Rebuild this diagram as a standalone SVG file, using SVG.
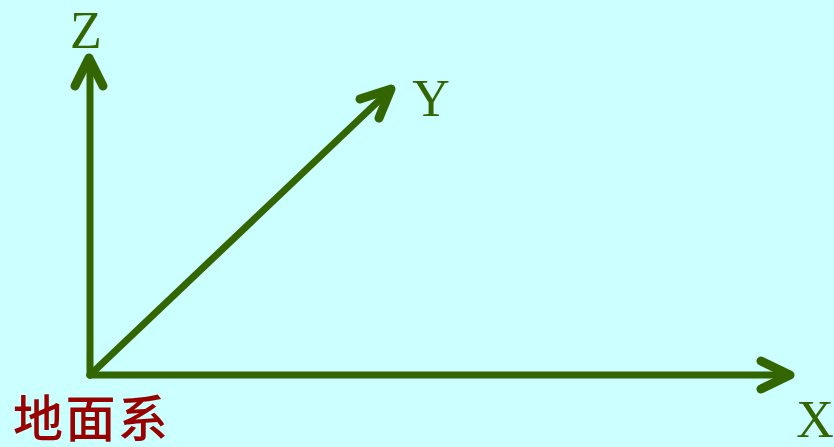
<svg xmlns="http://www.w3.org/2000/svg" width="834" height="447" viewBox="0 0 834 447">
<style>
.ax{stroke:#336600;stroke-width:7;fill:none;stroke-linecap:round;stroke-linejoin:round}
.hd{stroke:#336600;stroke-width:9;fill:none;stroke-linecap:round;stroke-linejoin:round}
.lb{font-family:"Liberation Serif","Times New Roman",serif;font-size:52px;fill:#336600}
.cn{font-family:"Noto Sans CJK SC","Noto Sans CJK TC",sans-serif;font-size:50px;fill:#990000;font-weight:500}
</style>
<rect width="834" height="447" fill="#CCFFFF"/>
<g id="connectors">
<g id="axis-z"><line class="ax" x1="90" y1="375" x2="90" y2="60"/><polyline class="hd" points="75,86 89,58 103,86"/></g>
<g id="axis-x"><line class="ax" x1="90" y1="375" x2="788" y2="375"/><polyline class="hd" points="761,361 790,375 761,389"/></g>
<g id="axis-y"><line class="ax" x1="90" y1="375" x2="389" y2="91"/><polyline class="hd" points="360,99 391,89 379,118"/></g>
</g>
<g id="label-z"><text class="lb" x="86" y="48" text-anchor="middle">Z</text></g>
<g id="label-y"><text class="lb" x="431" y="116" text-anchor="middle">Y</text></g>
<g id="label-x"><text class="lb" x="815" y="437" text-anchor="middle">X</text></g>
<g id="title"><text class="cn" x="13" y="437" textLength="155">地面系</text></g>
</svg>
